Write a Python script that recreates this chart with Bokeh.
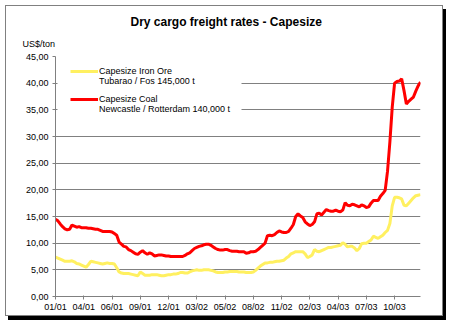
from bokeh.plotting import figure
from bokeh.models import (Range1d, FixedTicker, BoxAnnotation, Legend,
                          LegendItem, ColumnDataSource, Title)
from bokeh.embed import file_html
from bokeh.resources import INLINE

# ---- data (weekly observations, Jan 2001 - Dec 2003) ----
week = list(range(156))

iron_ore = [
    7.4, 7.2, 7.0, 6.8, 6.6, 6.6, 6.6, 6.7, 6.5, 6.2, 6.1, 5.9,
    5.7, 5.5, 6.0, 6.6, 6.5, 6.4, 6.3, 6.2, 6.1, 6.2, 6.3, 6.2,
    6.2, 6.1, 5.4, 4.6, 4.4, 4.3, 4.3, 4.3, 4.2, 4.1, 4.0, 3.9,
    4.6, 4.3, 4.0, 4.0, 4.0, 4.1, 4.1, 4.1, 4.0, 3.9, 3.9, 4.0,
    4.1, 4.1, 4.2, 4.2, 4.3, 4.5, 4.5, 4.4, 4.4, 4.6, 4.8, 4.9,
    5.0, 4.9, 4.9, 5.0, 5.0, 5.0, 4.9, 4.8, 4.6, 4.5, 4.5, 4.5,
    4.6, 4.6, 4.7, 4.7, 4.7, 4.7, 4.6, 4.6, 4.6, 4.5, 4.5, 4.5,
    4.6, 4.9, 5.3, 5.7, 6.0, 6.3, 6.3, 6.4, 6.4, 6.5, 6.6, 6.6,
    6.7, 6.8, 7.2, 7.5, 8.0, 8.2, 8.4, 8.4, 8.4, 8.4, 8.0, 7.3,
    7.5, 7.8, 8.8, 8.5, 8.4, 8.6, 8.8, 9.0, 9.2, 9.2, 9.3, 9.4,
    9.5, 9.6, 10.1, 9.8, 9.3, 9.4, 9.4, 9.1, 8.6, 9.0, 9.9, 10.0,
    10.0, 10.3, 10.6, 11.3, 11.1, 10.9, 11.2, 11.5, 12.0, 12.4, 13.7, 17.0,
    18.6, 18.6, 18.5, 18.3, 17.1, 17.0, 17.5, 18.0, 18.5, 18.9, 19.0, 19.1,
]

coal = [
    14.5, 14.2, 13.6, 13.1, 12.7, 12.5, 12.6, 13.4, 13.2, 13.0, 13.1, 12.9,
    12.9, 12.9, 12.8, 12.8, 12.7, 12.6, 12.6, 12.4, 12.2, 12.2, 12.2, 12.2,
    12.1, 11.8, 11.5, 10.2, 9.8, 9.4, 9.3, 8.8, 8.6, 8.3, 8.0, 7.9,
    8.3, 8.6, 8.2, 7.9, 8.2, 8.0, 7.6, 7.7, 7.8, 7.8, 7.7, 7.6,
    7.6, 7.5, 7.5, 7.5, 7.5, 7.5, 7.5, 7.7, 8.0, 8.2, 8.6, 9.0,
    9.2, 9.4, 9.5, 9.7, 9.8, 9.8, 9.6, 9.3, 9.0, 8.8, 8.7, 8.7,
    8.8, 8.8, 8.6, 8.5, 8.5, 8.5, 8.4, 8.4, 8.4, 8.1, 8.2, 8.4,
    8.4, 8.5, 8.8, 9.2, 9.6, 10.0, 11.4, 11.5, 11.4, 11.6, 12.0, 12.3,
    12.1, 12.0, 12.0, 12.2, 12.8, 13.5, 15.0, 15.5, 15.1, 14.8, 14.0, 13.6,
    13.3, 13.5, 14.0, 15.5, 15.6, 15.3, 15.8, 16.3, 16.1, 16.0, 16.0, 16.2,
    16.0, 15.9, 16.2, 17.6, 17.1, 17.0, 17.3, 17.2, 17.0, 16.8, 17.2, 17.0,
    16.7, 16.8, 17.5, 18.0, 18.0, 18.0, 18.8, 19.3, 19.9, 23.5, 29.0, 35.5,
    40.0, 40.3, 40.4, 40.8, 38.6, 36.1, 36.6, 37.0, 37.4, 38.5, 39.5, 40.2,
]

x_tick_weeks = [0, 12, 24, 36, 48, 60, 72, 84, 96, 108, 120, 132, 144]
x_tick_labels = ["01/01", "04/01", "06/01", "09/01", "12/01", "03/02", "05/02",
                 "08/02", "11/02", "02/03", "04/03", "07/03", "10/03"]
y_ticks = [0, 5, 10, 15, 20, 25, 30, 35, 40, 45]
y_tick_labels = ["0,00", "5,00", "10,00", "15,00", "20,00", "25,00", "30,00",
                 "35,00", "40,00", "45,00"]

title_text = "Dry cargo freight rates - Capesize"
unit_text = "US$/ton"
ore_name = ["Capesize Iron Ore", "Tubarao / Fos 145,000 t"]
coal_name = ["Capesize Coal", "Newcastle / Rotterdam 140,000 t"]

FONT = "Liberation Sans"
GRAY = "#808080"
YELLOW = "#FFF060"
RED = "#FF0000"

source = ColumnDataSource(dict(week=week, iron_ore=iron_ore, coal=coal))

p = figure(width=438, height=311, output_backend="svg", toolbar_location=None,
           title=None,
           x_range=Range1d(0, 155), y_range=Range1d(0, 45),
           min_border_left=49, min_border_right=24,
           min_border_top=50, min_border_bottom=21,
           styles={"margin-left": "5px", "margin-top": "5px",
                   "border": "1px solid #808080",
                   "box-shadow": "3px 4px 0 0 #000000"})
p.background_fill_color = "white"
p.border_fill_color = "white"
p.outline_line_color = None

# axes
p.xaxis.ticker = FixedTicker(ticks=x_tick_weeks)
p.xaxis.major_label_overrides = dict(zip(x_tick_weeks, x_tick_labels))
p.yaxis.ticker = FixedTicker(ticks=y_ticks)
p.yaxis.major_label_overrides = dict(zip(y_ticks, y_tick_labels))
for ax in (p.xaxis[0], p.yaxis[0]):
    ax.axis_line_color = GRAY
    ax.major_tick_line_color = GRAY
    ax.minor_tick_line_color = None
    ax.major_label_text_font = FONT
    ax.major_label_text_font_size = "9px"
    ax.major_label_text_color = "black"
p.xaxis.major_tick_in = 1
p.xaxis.major_tick_out = 3
p.xaxis.major_label_standoff = 2
p.yaxis.major_tick_in = 0
p.yaxis.major_tick_out = 3
p.yaxis.major_label_standoff = 4

p.xgrid.visible = False
p.ygrid.grid_line_color = GRAY

# series
r_ore = p.line("week", "iron_ore", source=source, line_color=YELLOW, line_width=3)
r_coal = p.line("week", "coal", source=source, line_color=RED, line_width=3)
r_blank = p.line("week", "coal", source=source, line_alpha=0)

# legend background box (covers grid lines)
p.add_layout(BoxAnnotation(left=50, right=234, top=54, bottom=111,
                           left_units="canvas", right_units="canvas",
                           top_units="canvas", bottom_units="canvas",
                           fill_color="white", fill_alpha=1, line_color=None))

def make_legend(items, loc):
    return Legend(items=items, location=loc, orientation="vertical",
                  background_fill_alpha=0, border_line_color=None,
                  padding=0, margin=0, spacing=0,
                  glyph_width=28, glyph_height=10, label_height=10,
                  label_standoff=1, label_text_font=FONT,
                  label_text_font_size="9px", label_text_color="black",
                  label_width=130)

leg_a = make_legend([LegendItem(label=ore_name[0], renderers=[r_ore]),
                     LegendItem(label=ore_name[1], renderers=[r_blank])], (15, 210))
leg_b = make_legend([LegendItem(label=coal_name[0], renderers=[r_coal]),
                     LegendItem(label=coal_name[1], renderers=[r_blank])], (15, 182))
p.add_layout(leg_a, "center")
p.add_layout(leg_b, "center")

# unit label (nearest to frame) then main title
p.add_layout(Title(text=unit_text, align="left", offset=-33, standoff=15,
                   text_font=FONT, text_font_size="9px", text_font_style="normal",
                   text_color="black"), "above")
p.add_layout(Title(text=title_text, align="left", offset=75, standoff=1,
                   text_font=FONT, text_font_size="12px", text_font_style="bold",
                   text_color="black"), "above")

open("out.html", "w").write(file_html(p, INLINE))
